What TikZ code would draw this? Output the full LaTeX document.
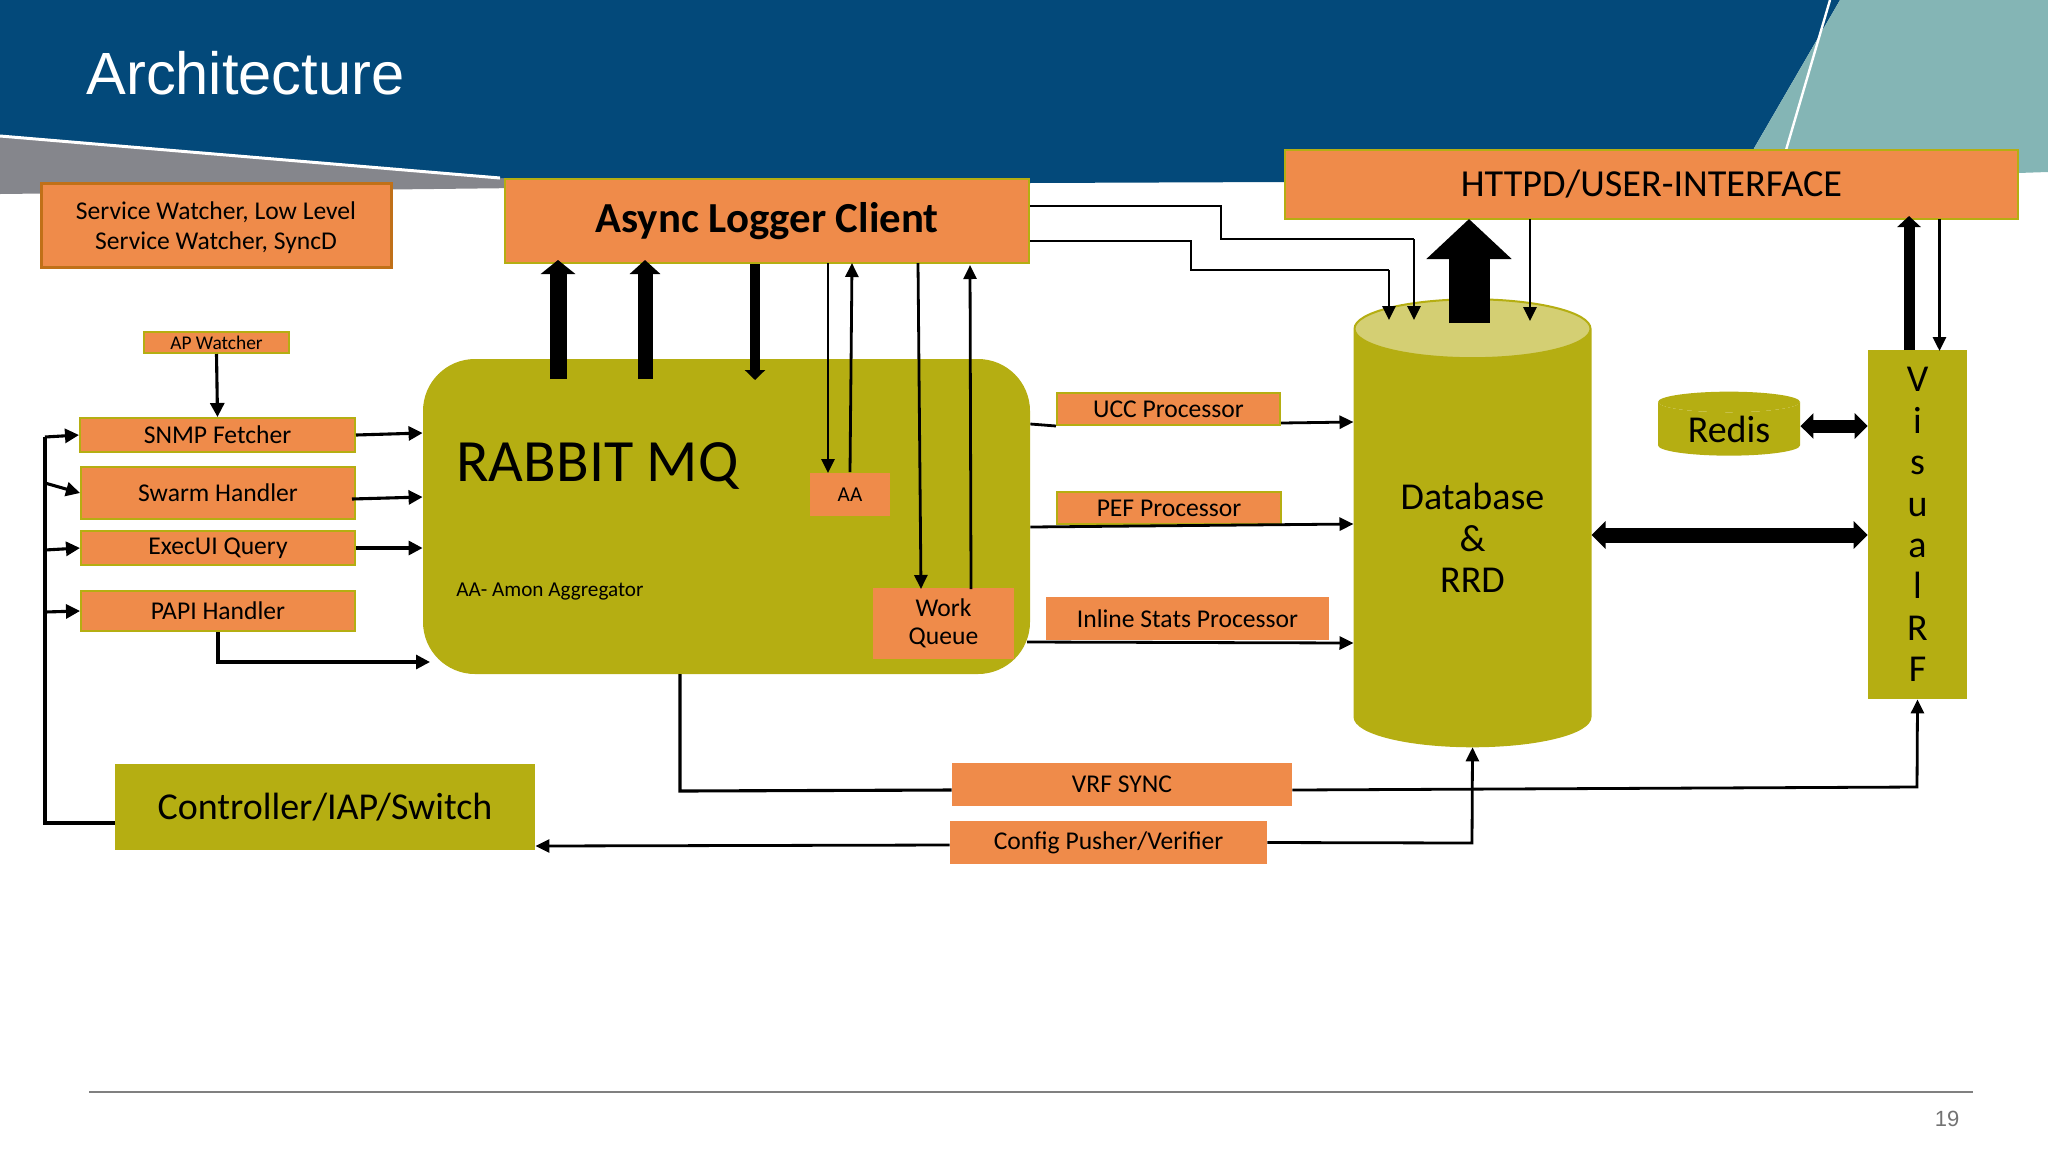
\documentclass[tikz,border=0pt]{standalone}
\usepackage{fontspec}
\setmainfont{Carlito}
\setsansfont{Liberation Sans}
\usetikzlibrary{arrows.meta,shapes.geometric}
\definecolor{slideblue}{HTML}{03497A}
\definecolor{slideteal}{HTML}{84B5B5}
\definecolor{slidegrey}{HTML}{85868C}
\definecolor{boxorange}{HTML}{EF8B4A}
\definecolor{boxolive}{HTML}{B5AE12}
\definecolor{lidolive}{HTML}{D4CF73}
\definecolor{edgebrown}{HTML}{C07018}
\begin{document}
\begin{tikzpicture}[x=0.5pt, y=-0.5pt, every node/.style={inner sep=0pt, align=center}]
    % Styles
    \tikzstyle{orange} = [rectangle, fill=boxorange, font=\fontsize{12.8}{15}\selectfont]
    \tikzstyle{edged} = [orange, draw=boxolive, line width=1pt]
    \tikzstyle{olive} = [rectangle, fill=boxolive, font=\fontsize{19}{20.7}\selectfont]
    \tikzstyle{tank} = [cylinder, shape border rotate=90, cylinder uses custom fill, cylinder body fill=boxolive, font=\fontsize{19}{20.7}\selectfont]
    \tikzstyle{arrow} = [line width=1.4pt, -{Triangle[length=7pt, width=6.5pt]}]
    \tikzstyle{bold} = [line width=1.55pt, -{Triangle[length=7pt, width=7pt]}]
    \tikzstyle{plain} = [line width=1.4pt]
    \tikzstyle{fat} = [line width=8pt, -{Triangle[length=7pt, width=16pt]}]
    \useasboundingbox (0,0) rectangle (2048,1152);

    % Slide
    \fill [slidegrey] (0,136) -- (520,178) -- (520,188) -- (0,194) -- cycle;
    \fill [slideblue] (0,0) -- (1840,0) -- (1753,150) -- (1285,182) -- (1029,183) -- (500,178) -- (0,136) -- cycle;
    \fill [slideteal] (1840,0) -- (2048,0) -- (2048,172) -- (2018,173) -- (1753,150) -- cycle;
    \draw [white, line width=1.5pt] (0,136) -- (500,178);
    \draw [white, line width=1.2pt] (1830,0) -- (1786,150);
    \draw [black!50, line width=0.8pt] (89,1092) -- (1973,1092);
    \node (title) [anchor=west, white, font=\sffamily\fontsize{29.8}{34}\selectfont] at (86,73) {Architecture};
    \node (pagenum) [black!55, font=\sffamily\fontsize{11}{13}\selectfont] at (1947,1119) {19};

    % Nodes
    \node (service) [orange, draw=edgebrown, line width=1.5pt, minimum width=175pt, minimum height=42pt, text height=27pt] at (216,225) {Service Watcher, Low Level\\Service Watcher, SyncD};
    \node (ap)     [edged, minimum width=72.5pt, minimum height=10.5pt, font=\fontsize{9.7}{10}\selectfont] at (216.5,342.5) {AP Watcher};
    \node (snmp)   [edged, minimum width=137.5pt, minimum height=17pt] at (217.5,435) {SNMP Fetcher};
    \node (swarm)  [edged, minimum width=137pt, minimum height=26pt] at (218,493) {Swarm Handler};
    \node (exec)   [edged, minimum width=137pt, minimum height=17pt, text height=8.6pt, text depth=2.6pt] at (218,548) {ExecUI Query};
    \node (papi)   [edged, minimum width=137pt, minimum height=20pt] at (218,611) {PAPI Handler};
    \node (ctrl)   [olive, minimum width=210pt, minimum height=43pt] at (325,807) {Controller/IAP/Switch};
    \node (rabbit) [rectangle, fill=boxolive, rounded corners=26pt, minimum width=303.5pt, minimum height=157.5pt] at (726.5,516.5) {};
    \node (rabbittxt) [anchor=west, font=\fontsize{30}{34}\selectfont] at (456,466) {RABBIT MQ};
    \node (aanote) [anchor=west, font=\fontsize{10.6}{12}\selectfont] at (456,592) {AA- Amon Aggregator};
    \node (async)  [edged, minimum width=262pt, minimum height=42pt, font=\bfseries\fontsize{21.4}{24}\selectfont] at (767,221) {Async Logger Client};
    \node (httpd)  [edged, minimum width=366.5pt, minimum height=34.5pt, font=\fontsize{19.1}{22}\selectfont] at (1651.5,184) {HTTPD/USER-INTERFACE};
    \node (aa)     [orange, minimum width=40pt, minimum height=21.5pt, font=\fontsize{10.6}{12}\selectfont] at (850,494.5) {AA};
    \node (queue)  [orange, minimum width=70.5pt, minimum height=35.5pt, font=\fontsize{12.8}{14}\selectfont] at (943.5,623.5) {Work\\Queue};
    \node (ucc)    [edged, minimum width=111.5pt, minimum height=16pt] at (1168.5,409) {UCC Processor};
    \node (pef)    [edged, minimum width=112pt, minimum height=16pt] at (1169,508) {PEF Processor};
    \node (inline) [orange, minimum width=141.5pt, minimum height=21.5pt] at (1187.5,618.5) {Inline Stats Processor};
    \node (db)     [tank, draw=boxolive, line width=1pt, cylinder end fill=lidolive, aspect=0.41, minimum width=118pt, minimum height=223.5pt] at (1472.5,538) {Database\\\&\\RRD};
    \node (redis)  [tank, cylinder end fill=boxolive, aspect=0.25, minimum width=71pt, minimum height=32pt] at (1729,429) {Redis};
    \node (visual) [olive, minimum width=49.5pt, minimum height=174.5pt] at (1917.5,524.5) {V\\i\\s\\u\\a\\l\\R\\F};
    \node (vrf)    [orange, minimum width=170pt, minimum height=21.5pt] at (1122,784.5) {VRF SYNC};
    \node (config) [orange, minimum width=158.5pt, minimum height=21.5pt] at (1108.5,842.5) {Config Pusher/Verifier};

    % Free ends
    \coordinate (bustop) at (45,437);
    \coordinate (busbot) at (45,823);
    \coordinate (papiin) at (430,662);

    % Arrows on the left
    \draw [bold, -] (ctrl.west |- busbot) -- (busbot) -- (bustop);
    \draw [bold] (bustop) -- (snmp.west);
    \draw [bold] (45,483) -- (swarm.west);
    \draw [bold] (45,550) -- (exec.west);
    \draw [bold] (45,612) -- (papi.west);
    \draw [bold] (ap.south) -- (snmp.north);
    \draw [bold] (snmp.east) -- (rabbit.west |- 0,433);
    \draw [bold] (352,499) -- (rabbit.west |- 0,497);
    \draw [bold] (exec.east) -- (rabbit.west |- exec.east);
    \draw [bold] (papi.south) |- (papiin);

    % Arrows between logger and queue
    \draw [fat, line width=8.5pt, -{Triangle[length=7pt, width=17pt]}] (558,379) -- (558,260);
    \draw [fat, line width=7.5pt, -{Triangle[length=7pt, width=15pt]}] (645,379) -- (645,260);
    \draw [fat, line width=5pt, -{Triangle[length=5pt, width=10pt]}] (755,264) -- (755,380);
    \draw [arrow] (828,263) -- (828,473);
    \draw [arrow] (850,472) -- (852,263);
    \draw [arrow] (918,263) -- (921,589);
    \draw [arrow] (971,589) -- (970,265);

    % Arrows to the database
    \draw [plain] (async.east |- 0,206) -- (1221,206) -- (1221,239) -- (1414,239);
    \draw [arrow] (1414,239) -- (1414,320);
    \draw [plain] (async.east |- 0,241) -- (1191,241) -- (1191,270) -- (1389,270);
    \draw [arrow] (1389,270) -- (1389,320);
    \draw [fat, line width=20.5pt, -{Triangle[length=20pt, width=41.5pt]}] (1469,323) -- (1469,219);
    \draw [arrow] (1530,219) -- (1530,321);
    \draw [plain] (rabbit.east |- 0,424) -- (ucc.south west);
    \draw [arrow] (ucc.east |- 0,423) -- (db.west |- 0,422);
    \draw [arrow] (rabbit.east |- 0,527) -- (db.west |- 0,524);
    \draw [arrow] (1027,642) -- (db.west |- 0,643);
    \draw [fat, line width=7.5pt, {Triangle[length=7pt, width=13.5pt]}-{Triangle[length=7pt, width=13.5pt]}] (db.east |- 0,535) -- (visual.west |- 0,535);
    \draw [fat, line width=6.5pt, {Triangle[length=6.5pt, width=12.5pt]}-{Triangle[length=6.5pt, width=12.5pt]}] (redis.east |- 0,426) -- (visual.west |- 0,426);

    % Arrows to the interface
    \draw [fat, line width=5.5pt, -{Triangle[length=5.5pt, width=11.5pt]}] (1909,350) -- (1909,216);
    \draw [arrow] (1939.5,219) -- (1939.5,351);

    % Arrows along the bottom
    \draw [bold, -] (680,674) -- (680,791) -- (vrf.west |- 0,790);
    \draw [arrow] (vrf.east |- 0,790) -- (1917,787) -- (visual.south);
    \draw [arrow] (config.west |- 0,845) -- (ctrl.east |- 0,846);
    \draw [arrow] (config.east) -- (1472,843) -- (db.south);
\end{tikzpicture}
\end{document}
